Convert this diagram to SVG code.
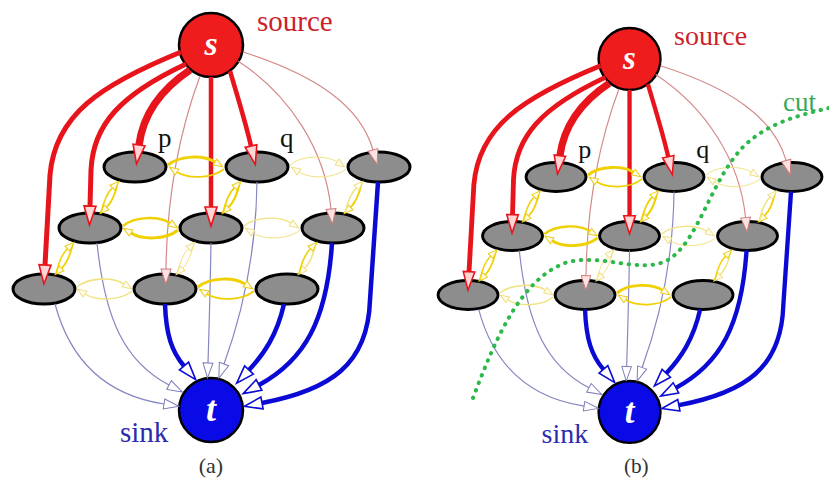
<svg xmlns="http://www.w3.org/2000/svg" width="829" height="489" viewBox="0 0 829 489">
<defs>
<style>
.nd{fill:#8d8d8d;stroke:#000;stroke-width:3}
.src{fill:#ee1c1c;stroke:#000;stroke-width:2.5}
.snk{fill:#0a0ae6;stroke:#000;stroke-width:2.5}
.lbl{font-family:"Liberation Serif","Times New Roman",serif}
.st{font-family:"Liberation Serif","Times New Roman",serif;font-weight:bold;font-style:italic;fill:#fff;text-anchor:middle}
.e{fill:none}
.r{stroke:#e8141c;marker-end:url(#mR)}
.pk{stroke:#d48a8a;stroke-width:1.2;marker-end:url(#mP)}
.b{stroke:#0a0ad4;stroke-width:4.5;marker-end:url(#mB)}
.g{stroke:#8585c2;stroke-width:1.2;marker-end:url(#mG)}
.y{stroke:#f0d000;marker-end:url(#mY)}
.yp{stroke:#f1e27e;marker-end:url(#mYp)}
</style>
<marker id="mR" viewBox="-2 -8 24 16" markerWidth="24" markerHeight="16" refX="0" refY="0" orient="auto" markerUnits="userSpaceOnUse"><path d="M0,-6 L19,0 L0,6 Z" fill="#ffd6d6" stroke="#e8141c" stroke-width="1.6"/></marker>
<marker id="mP" viewBox="-2 -7 20 14" markerWidth="20" markerHeight="14" refX="0" refY="0" orient="auto" markerUnits="userSpaceOnUse"><path d="M0,-5 L15,0 L0,5 Z" fill="#fbe3e3" stroke="#cf7a7a" stroke-width="1"/></marker>
<marker id="mB" viewBox="-2 -8 24 16" markerWidth="24" markerHeight="16" refX="0" refY="0" orient="auto" markerUnits="userSpaceOnUse"><path d="M0,-6 L18,0 L0,6 Z" fill="#fff" stroke="#0a0ad4" stroke-width="1.6"/></marker>
<marker id="mG" viewBox="-2 -7 20 14" markerWidth="20" markerHeight="14" refX="0" refY="0" orient="auto" markerUnits="userSpaceOnUse"><path d="M0,-5 L15,0 L0,5 Z" fill="#fff" stroke="#7a7ab8" stroke-width="1"/></marker>
<marker id="mY" viewBox="-2 -5 14 10" markerWidth="14" markerHeight="10" refX="0" refY="0" orient="auto" markerUnits="userSpaceOnUse"><path d="M0,-3.5 L9,0 L0,3.5 Z" fill="#fffbe6" stroke="#eccc10" stroke-width="1"/></marker>
<marker id="mYp" viewBox="-2 -5 14 10" markerWidth="14" markerHeight="10" refX="0" refY="0" orient="auto" markerUnits="userSpaceOnUse"><path d="M0,-3.5 L9,0 L0,3.5 Z" fill="#fffdf0" stroke="#efdf80" stroke-width="1"/></marker>
</defs>
<rect width="829" height="489" fill="#fff"/>

<!-- Panel (a) -->
<g id="panel-a">
<g id="a-nodes">
<g id="a-s"><circle cx="211" cy="45" r="32" class="src"/><text x="211" y="55" class="st" font-size="34">s</text><text x="257" y="31" class="lbl" font-size="29" fill="#cc1f2e">source</text></g>
<g id="a-t"><circle cx="211" cy="410" r="32" class="snk"/><text x="211" y="421" class="st" font-size="36">t</text><text x="120" y="442" class="lbl" font-size="29" fill="#2b2bb0">sink</text></g>
<g id="a-p"><ellipse cx="135" cy="167" rx="31" ry="15" class="nd"/><text x="158" y="147" class="lbl" font-size="27" fill="#111">p</text></g>
<g id="a-q"><ellipse cx="257" cy="167" rx="31" ry="15" class="nd"/><text x="280" y="147" class="lbl" font-size="27" fill="#111">q</text></g>
<g id="a-n13"><ellipse cx="379" cy="167" rx="31" ry="15" class="nd"/></g>
<g id="a-n21"><ellipse cx="90" cy="228" rx="31" ry="15" class="nd"/></g>
<g id="a-n22"><ellipse cx="211" cy="228" rx="31" ry="15" class="nd"/></g>
<g id="a-n23"><ellipse cx="333" cy="228" rx="31" ry="15" class="nd"/></g>
<g id="a-n31"><ellipse cx="44" cy="289" rx="31" ry="15" class="nd"/></g>
<g id="a-n32"><ellipse cx="165" cy="289" rx="31" ry="15" class="nd"/></g>
<g id="a-n33"><ellipse cx="287" cy="289" rx="31" ry="15" class="nd"/></g>
</g>
<g id="a-connectors" class="e">
<path class="e r" stroke-width="5" d="M181,52 C100,85 55,115 50,175 L45,265"/>
<path class="e r" stroke-width="5" d="M186,64 C120,95 93,125 91,170 L90,206"/>
<path class="e r" stroke-width="7.5" d="M190,70 C160,90 143,115 139,145"/>
<path class="e pk" d="M200,76 C180,130 167,190 166,269"/>
<path class="e r" stroke-width="4.5" d="M211,77 L211,207"/>
<path class="e r" stroke-width="4.5" d="M230,71 C237,95 245,120 251,146"/>
<path class="e pk" d="M238,61 C290,95 325,150 331,209"/>
<path class="e pk" d="M243,52 C315,75 360,105 373,150"/>
<path class="e g" d="M55,304 C70,360 105,395 164,404"/>
<path class="e g" d="M97,243 C105,320 125,362 169,385"/>
<path class="e g" d="M211,243 C210,300 209,330 208,363"/>
<path class="e g" d="M257,182 C256,260 240,320 224,364"/>
<path class="e b" d="M165,304 C166,335 172,352 184,366"/>
<path class="e b" d="M284,304 C277,335 264,354 249,370"/>
<path class="e b" d="M332,243 C327,320 305,360 259,385"/>
<path class="e b" d="M378,182 L370,300 C368,365 330,390 262,403"/>
<path class="e y" stroke-width="3" d="M168,165 c12,-10 36,-10 47,-3"/>
<path class="e y" stroke-width="1.8" d="M224,169 c-12,10 -36,10 -47,3"/>
<path class="e yp" stroke-width="1" d="M290,165 c12,-10 36,-10 47,-3"/>
<path class="e yp" stroke-width="1" d="M346,169 c-12,10 -36,10 -47,3"/>
<path class="e y" stroke-width="2.5" d="M123,226 c12,-10 36,-10 47,-3"/>
<path class="e y" stroke-width="3" d="M178,230 c-12,10 -36,10 -47,3"/>
<path class="e yp" stroke-width="1.2" d="M244,226 c12,-10 36,-10 47,-3"/>
<path class="e yp" stroke-width="1" d="M300,230 c-12,10 -36,10 -47,3"/>
<path class="e yp" stroke-width="1.6" d="M77,287 c12,-10 36,-10 47,-3"/>
<path class="e yp" stroke-width="1.4" d="M132,291 c-12,10 -36,10 -47,3"/>
<path class="e y" stroke-width="3" d="M198,287 c12,-10 36,-10 47,-3"/>
<path class="e y" stroke-width="1.8" d="M254,291 c-12,10 -36,10 -47,3"/>
<path class="e y" stroke-width="1.8" d="M118,182 q-4,18 -11.4,25.3"/>
<path class="e y" stroke-width="1.6" d="M101,213 q4,-18 11.4,-25.3"/>
<path class="e y" stroke-width="2.2" d="M240,182 q-4,18 -11.4,25.3"/>
<path class="e y" stroke-width="1.8" d="M223,213 q4,-18 11.4,-25.3"/>
<path class="e y" stroke-width="1.8" d="M362,182 q-4,18 -11.4,25.3"/>
<path class="e yp" stroke-width="1.5" d="M345,213 q4,-18 11.4,-25.3"/>
<path class="e y" stroke-width="1.8" d="M73,243 q-4,18 -11.4,25.3"/>
<path class="e y" stroke-width="1.5" d="M56,274 q4,-18 11.4,-25.3"/>
<path class="e yp" stroke-width="1" d="M194,243 q-4,18 -11.4,25.3"/>
<path class="e yp" stroke-width="1" d="M177,274 q4,-18 11.4,-25.3"/>
<path class="e yp" stroke-width="1.6" d="M316,243 q-4,18 -11.4,25.3"/>
<path class="e y" stroke-width="1.6" d="M299,274 q4,-18 11.4,-25.3"/>
</g>
<text x="211" y="473" class="lbl" font-size="22" fill="#333" text-anchor="middle">(a)</text>
</g>

<!-- Panel (b) -->
<g id="panel-b" transform="translate(425.5,15.5) scale(0.967)">
<g id="b-nodes">
<g id="b-s"><circle cx="211" cy="45" r="32" class="src"/><text x="211" y="55" class="st" font-size="34">s</text><text x="257" y="31" class="lbl" font-size="29" fill="#cc1f2e">source</text></g>
<g id="b-t"><circle cx="211" cy="410" r="32" class="snk"/><text x="211" y="421" class="st" font-size="36">t</text><text x="120" y="442" class="lbl" font-size="29" fill="#2b2bb0">sink</text></g>
<g id="b-p"><ellipse cx="135" cy="167" rx="31" ry="15" class="nd"/><text x="158" y="147" class="lbl" font-size="27" fill="#111">p</text></g>
<g id="b-q"><ellipse cx="257" cy="167" rx="31" ry="15" class="nd"/><text x="280" y="147" class="lbl" font-size="27" fill="#111">q</text></g>
<g id="b-n13"><ellipse cx="379" cy="167" rx="31" ry="15" class="nd"/></g>
<g id="b-n21"><ellipse cx="90" cy="228" rx="31" ry="15" class="nd"/></g>
<g id="b-n22"><ellipse cx="211" cy="228" rx="31" ry="15" class="nd"/></g>
<g id="b-n23"><ellipse cx="333" cy="228" rx="31" ry="15" class="nd"/></g>
<g id="b-n31"><ellipse cx="44" cy="289" rx="31" ry="15" class="nd"/></g>
<g id="b-n32"><ellipse cx="165" cy="289" rx="31" ry="15" class="nd"/></g>
<g id="b-n33"><ellipse cx="287" cy="289" rx="31" ry="15" class="nd"/></g>
</g>
<g id="b-connectors" class="e">
<path class="e r" stroke-width="5" d="M181,52 C100,85 55,115 50,175 L45,265"/>
<path class="e r" stroke-width="5" d="M186,64 C120,95 93,125 91,170 L90,206"/>
<path class="e r" stroke-width="7.5" d="M190,70 C160,90 143,115 139,145"/>
<path class="e pk" d="M200,76 C180,130 167,190 166,269"/>
<path class="e r" stroke-width="4.5" d="M211,77 L211,207"/>
<path class="e r" stroke-width="4.5" d="M230,71 C237,95 245,120 251,146"/>
<path class="e pk" d="M238,61 C290,95 325,150 331,209"/>
<path class="e pk" d="M243,52 C315,75 360,105 373,150"/>
<path class="e g" d="M55,304 C70,360 105,395 164,404"/>
<path class="e g" d="M97,243 C105,320 125,362 169,385"/>
<path class="e g" d="M211,243 C210,300 209,330 208,363"/>
<path class="e g" d="M257,182 C256,260 240,320 224,364"/>
<path class="e b" d="M165,304 C166,335 172,352 184,366"/>
<path class="e b" d="M284,304 C277,335 264,354 249,370"/>
<path class="e b" d="M332,243 C327,320 305,360 259,385"/>
<path class="e b" d="M378,182 L370,300 C368,365 330,390 262,403"/>
<path class="e y" stroke-width="3" d="M168,165 c12,-10 36,-10 47,-3"/>
<path class="e y" stroke-width="1.8" d="M224,169 c-12,10 -36,10 -47,3"/>
<path class="e yp" stroke-width="1" d="M290,165 c12,-10 36,-10 47,-3"/>
<path class="e yp" stroke-width="1" d="M346,169 c-12,10 -36,10 -47,3"/>
<path class="e y" stroke-width="2.5" d="M123,226 c12,-10 36,-10 47,-3"/>
<path class="e y" stroke-width="3" d="M178,230 c-12,10 -36,10 -47,3"/>
<path class="e yp" stroke-width="1.2" d="M244,226 c12,-10 36,-10 47,-3"/>
<path class="e yp" stroke-width="1" d="M300,230 c-12,10 -36,10 -47,3"/>
<path class="e yp" stroke-width="1.6" d="M77,287 c12,-10 36,-10 47,-3"/>
<path class="e yp" stroke-width="1.4" d="M132,291 c-12,10 -36,10 -47,3"/>
<path class="e y" stroke-width="3" d="M198,287 c12,-10 36,-10 47,-3"/>
<path class="e y" stroke-width="1.8" d="M254,291 c-12,10 -36,10 -47,3"/>
<path class="e y" stroke-width="1.8" d="M118,182 q-4,18 -11.4,25.3"/>
<path class="e y" stroke-width="1.6" d="M101,213 q4,-18 11.4,-25.3"/>
<path class="e y" stroke-width="2.2" d="M240,182 q-4,18 -11.4,25.3"/>
<path class="e y" stroke-width="1.8" d="M223,213 q4,-18 11.4,-25.3"/>
<path class="e y" stroke-width="1.8" d="M362,182 q-4,18 -11.4,25.3"/>
<path class="e yp" stroke-width="1.5" d="M345,213 q4,-18 11.4,-25.3"/>
<path class="e y" stroke-width="1.8" d="M73,243 q-4,18 -11.4,25.3"/>
<path class="e y" stroke-width="1.5" d="M56,274 q4,-18 11.4,-25.3"/>
<path class="e yp" stroke-width="1" d="M194,243 q-4,18 -11.4,25.3"/>
<path class="e yp" stroke-width="1" d="M177,274 q4,-18 11.4,-25.3"/>
<path class="e yp" stroke-width="1.6" d="M316,243 q-4,18 -11.4,25.3"/>
<path class="e y" stroke-width="1.6" d="M299,274 q4,-18 11.4,-25.3"/>
</g>
<text x="218" y="473" class="lbl" font-size="22" fill="#333" text-anchor="middle">(b)</text>
</g>

<g id="cut">
<path d="M473,398 C495,340 520,280 565,263 C600,252 640,275 668,260 C700,240 710,180 745,145 C770,122 800,115 829,108" fill="none" stroke="#2db84a" stroke-width="4" stroke-linecap="round" stroke-dasharray="0.5 7.5"/>
<text x="783" y="111" class="lbl" font-size="27" fill="#33aa55">cut</text>
</g>
</svg>
